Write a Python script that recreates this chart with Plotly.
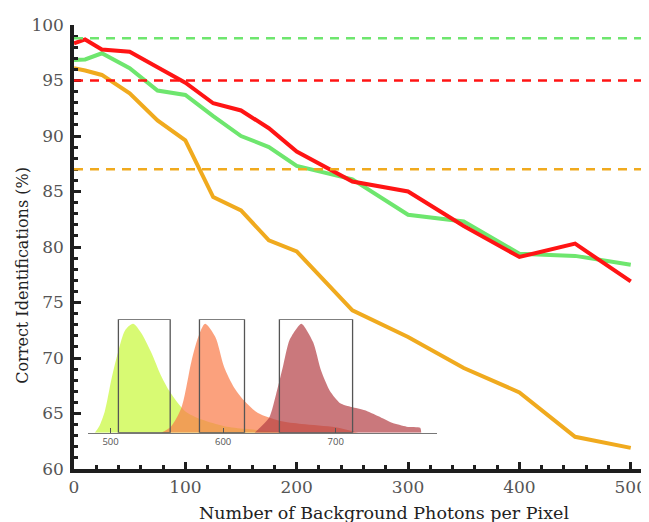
import plotly.graph_objects as go

# ---- main data ----
photons = [0, 10, 25, 50, 75, 100, 125, 150, 175, 200, 250, 300, 350, 400, 450, 500]
red_pct = [98.35, 98.7, 97.8, 97.6, 96.2, 94.8, 92.95, 92.3, 90.7, 88.6, 85.9, 85.0, 81.9, 79.1, 80.3, 76.9]
green_pct = [96.85, 96.9, 97.45, 96.1, 94.1, 93.7, 91.8, 90.0, 89.0, 87.3, 86.1, 82.9, 82.3, 79.4, 79.2, 78.4]
orange_pct = [96.1, 95.9, 95.5, 93.85, 91.4, 89.6, 84.5, 83.3, 80.6, 79.6, 74.3, 71.9, 69.1, 66.9, 62.9, 61.9]

# reference (dashed) levels
green_ref = 98.8
red_ref = 95.0
orange_ref = 87.0

# ---- inset: emission spectra (normalised) ----
green_wl = [486, 490, 495, 501, 507, 513, 520, 527, 536, 545, 553, 566, 581, 601, 620, 640, 655]
green_int = [0, 0.06, 0.2, 0.5, 0.75, 0.94, 1.0, 0.92, 0.74, 0.52, 0.37, 0.2, 0.12, 0.06, 0.035, 0.015, 0]
orange_wl = [545, 554, 563, 572, 578, 584, 593, 601, 610, 619, 631, 650, 670, 700, 720]
orange_int = [0, 0.06, 0.23, 0.66, 0.88, 1.0, 0.88, 0.6, 0.41, 0.29, 0.18, 0.11, 0.08, 0.05, 0.0]
red_wl = [628, 641, 647, 653, 659, 669.5, 680, 687, 695, 704, 714, 726, 738, 750, 763, 775, 776]
red_int = [0, 0.14, 0.35, 0.6, 0.85, 1.0, 0.83, 0.57, 0.38, 0.27, 0.235, 0.205, 0.15, 0.09, 0.055, 0.045, 0]

# filter windows (nm)
filter_lo = [507, 579, 650]
filter_hi = [553, 619, 715]
filter_top = 1.04
inset_ticks = [500, 600, 700]

RED = "#ff1414"
GREEN = "#6ee66e"
ORANGE = "#f0aa1e"

fig = go.Figure()

# spectra (inset)
fig.add_trace(go.Scatter(x=green_wl, y=green_int, xaxis="x2", yaxis="y2", mode="lines",
                         line=dict(width=0, shape="spline", smoothing=0.8), fill="tozeroy",
                         fillcolor="rgba(212,250,100,0.9)", hoverinfo="skip", showlegend=False))
fig.add_trace(go.Scatter(x=orange_wl, y=orange_int, xaxis="x2", yaxis="y2", mode="lines",
                         line=dict(width=0, shape="spline", smoothing=0.8), fill="tozeroy",
                         fillcolor="rgba(250,125,75,0.72)", hoverinfo="skip", showlegend=False))
fig.add_trace(go.Scatter(x=red_wl, y=red_int, xaxis="x2", yaxis="y2", mode="lines",
                         line=dict(width=0, shape="spline", smoothing=0.6), fill="tozeroy",
                         fillcolor="rgba(180,62,68,0.7)", hoverinfo="skip", showlegend=False))

# main lines
for vals, col in [(green_pct, GREEN), (orange_pct, ORANGE), (red_pct, RED)]:
    fig.add_trace(go.Scatter(x=photons, y=vals, mode="lines",
                             line=dict(color=col, width=4), showlegend=False))

# dashed reference levels
for lvl, col in [(green_ref, GREEN), (red_ref, RED), (orange_ref, ORANGE)]:
    fig.add_shape(type="line", xref="paper", yref="y", x0=0, x1=1, y0=lvl, y1=lvl,
                  line=dict(color=col, width=2.5, dash="9px,7px"), layer="above")

# filter boxes
for lo, hi in zip(filter_lo, filter_hi):
    fig.add_shape(type="rect", xref="x2", yref="y2", x0=lo, x1=hi, y0=0, y1=filter_top,
                  line=dict(color="#555555", width=1.3), fillcolor="rgba(0,0,0,0)", layer="above")

serif = "DejaVu Serif"
# page body has an 8px margin, so figure is offset by (8, 8)
fig.update_layout(
    width=641, height=514,
    margin=dict(l=66, r=6, t=17, b=53),
    paper_bgcolor="white", plot_bgcolor="rgba(0,0,0,0)",
    xaxis=dict(range=[0, 511], showgrid=False, zeroline=False, automargin=False,
               showline=True, linecolor="#1e1e1e", linewidth=3.5,
               ticks="inside", ticklen=7, tickwidth=2.5, tickcolor="#1e1e1e",
               dtick=100, tick0=0,
               minor=dict(dtick=20, ticks="inside", ticklen=4, tickwidth=2.5, tickcolor="#1e1e1e"),
               tickfont=dict(family=serif, size=17, color="#555555")),
    yaxis=dict(range=[60, 100], showgrid=False, zeroline=False, automargin=False,
               showline=True, linecolor="#1e1e1e", linewidth=3.5,
               ticks="inside", ticklen=7, tickwidth=2.5, tickcolor="#1e1e1e",
               dtick=5, tick0=60,
               minor=dict(dtick=1, ticks="inside", ticklen=4, tickwidth=2.5, tickcolor="#1e1e1e"),
               tickfont=dict(family=serif, size=17, color="#555555"), ticklabelstandoff=3),
    xaxis2=dict(domain=[0.0246, 0.638], anchor="y2", range=[480, 790], automargin=False,
                showgrid=False, zeroline=False, showline=True, linecolor="#777777", linewidth=1.3,
                ticks="inside", ticklen=5, tickwidth=1.2, tickcolor="#555555",
                tickvals=inset_ticks, tickfont=dict(family="Open Sans", size=9.5, color="#555555")),
    yaxis2=dict(domain=[0.0818, 0.337], anchor="x2", range=[0, 1.04],
                visible=False),
    annotations=[
        dict(text="Number of Background Photons per Pixel", xref="paper", yref="paper",
             x=(383.5 - 74) / 569, y=-0.1, xanchor="center", yanchor="middle", showarrow=False,
             font=dict(family=serif, size=17.5, color="#222222")),
        dict(text="Correct Identifications (%)", xref="paper", yref="paper",
             x=-0.09, y=0.437, xanchor="center", yanchor="middle", textangle=-90, showarrow=False,
             font=dict(family=serif, size=16, color="#222222")),
    ],
)

fig.write_html("out.html")
